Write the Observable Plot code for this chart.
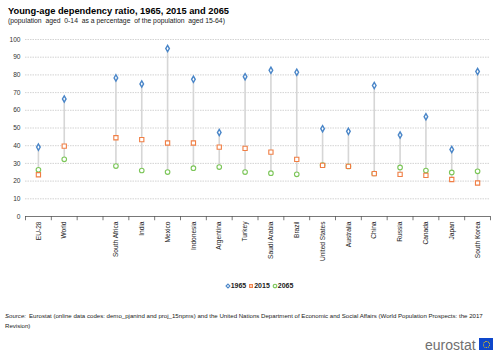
<!DOCTYPE html>
<html>
<head>
<meta charset="utf-8">
<script src="https://cdn.jsdelivr.net/npm/d3@7"></script>
<script src="https://cdn.jsdelivr.net/npm/@observablehq/plot@0.6"></script>
<style>
  html, body { margin: 0; padding: 0; background: #fff; overflow: hidden; }
  body { width: 500px; height: 354px; position: relative; font-family: "Liberation Sans", Arial, sans-serif; color: #000; }
  #title { position: absolute; left: 8px; top: 6px; font-size: 9.3px; font-weight: bold; white-space: nowrap; }
  #subtitle { position: absolute; left: 8px; top: 17px; font-size: 6.8px; color: #222; white-space: nowrap; }
  #chart { position: absolute; left: 0; top: 30px; width: 500px; }
  #chart svg { max-width: none; }
  #legend { position: absolute; left: 18px; width: 482px; top: 282px; text-align: center; font-size: 7px; font-weight: bold; color: #222; }
  #legend span.item { margin: 0 1px; }
  #source { position: absolute; left: 5px; top: 311px; width: 492px; font-size: 6.1px; line-height: 10px; color: #222; white-space: nowrap; }
  #source .lab { display: inline-block; font-style: italic; margin-right: 3px; }
  #logo { position: absolute; left: 425px; top: 337px; font-size: 14px; color: #707070; }
  #flag { position: absolute; left: 479px; top: 338px; width: 14px; height: 12px; background: #0e47cb; }
  #flag div { position: absolute; left: 3.5px; top: 2.5px; width: 5px; height: 5px; border: 1px dotted #ffd600; border-radius: 50%; }
</style>
</head>
<body>
<div id="title">Young-age dependency ratio, 1965, 2015 and 2065</div>
<div id="subtitle">(population &nbsp;aged &nbsp;0-14 &nbsp;as a percentage &nbsp;of the population &nbsp;aged 15-64)</div>
<div id="chart"></div>
<div id="legend"></div>
<div id="source"><span class="lab">Source:</span>Eurostat (online data codes: demo_pjanind and proj_15npms) and the United Nations Department of Economic and Social Affairs (World Population Prospects: the 2017<br>Revision)</div>
<div id="logo">eurostat</div>
<div id="flag"><div></div></div>
<script>
const categories = ["EU-28", "World", " ", "South Africa", "India", "Mexico", "Indonesia", "Argentina", "Turkey", "Saudi Arabia", "Brazil", "United States", "Australia", "China", "Russia", "Canada", "Japan", "South Korea"];
const countries = ["EU-28", "World", "South Africa", "India", "Mexico", "Indonesia", "Argentina", "Turkey", "Saudi Arabia", "Brazil", "United States", "Australia", "China", "Russia", "Canada", "Japan", "South Korea"];
const v1965 = [39.2, 66.4, 78.3, 74.9, 94.9, 77.5, 47.5, 79.0, 82.6, 81.5, 49.6, 48.1, 74.0, 46.0, 56.4, 37.9, 81.9];
const v2015 = [23.6, 39.8, 44.5, 43.4, 41.5, 41.5, 39.2, 38.5, 36.4, 32.3, 28.9, 28.3, 24.2, 23.8, 23.2, 20.9, 18.9];
const v2065 = [26.4, 32.3, 28.5, 26.0, 25.1, 27.3, 27.9, 25.1, 24.5, 23.8, 29.0, 28.3, 24.3, 27.7, 26.0, 24.9, 25.5];
const years = ["1965", "2015", "2065"];
const yTicks = [0, 10, 20, 30, 40, 50, 60, 70, 80, 90, 100];

const colors = {"1965": "#4a86c8", "2015": "#f07e44", "2065": "#7cc659"};

const rows = countries.map((c, i) => ({country: c, a: v1965[i], b: v2015[i], c: v2065[i],
  lo: Math.min(v1965[i], v2015[i], v2065[i]), hi: Math.max(v1965[i], v2015[i], v2065[i])}));

const W = 500, mL = 25, mR = 10;
const bw = (W - mL - mR) / categories.length;

const plot = Plot.plot({
  width: W,
  height: 240,
  marginLeft: mL,
  marginRight: mR,
  marginTop: 9,
  marginBottom: 54,
  style: {fontFamily: "Liberation Sans, Arial, sans-serif", fontSize: "6.6px", color: "#333", background: "white", maxWidth: "none"},
  x: {type: "band", domain: categories, padding: 0, round: false, range: [mL, W - mR], label: null},
  y: {domain: [0, 100], range: [186, 9], label: null},
  marks: [
    Plot.ruleY(yTicks.filter(d => d > 0), {stroke: "#c8c8c8", strokeWidth: 0.8, strokeDasharray: "1.5,1"}),
    Plot.axisY({ticks: yTicks, tickSize: 0, tickPadding: 5, tickFormat: d => d, fill: "#333"}),
    Plot.axisX({tickSize: 0, tickPadding: 5, tickRotate: -90, fill: "#222", tickFormat: d => d}),
    Plot.ruleX(rows, {x: "country", y1: "lo", y2: "hi", stroke: "#d6d6d6", strokeWidth: 1.6}),
    Plot.ruleY([0], {stroke: "#555", strokeWidth: 0.8}),
    Plot.ruleX(categories, {x: d => d, dx: -bw / 2, y1: 0, y2: -2.4, stroke: "#555", strokeWidth: 0.8}),
    Plot.ruleX(categories.slice(-1), {x: d => d, dx: bw / 2, y1: 0, y2: -2.4, stroke: "#555", strokeWidth: 0.8}),
    Plot.dot(rows, {x: "country", y: "c", symbol: "circle", r: 2.3, stroke: colors["2065"], strokeWidth: 1.1, fill: "white"}),
    Plot.dot(rows, {x: "country", y: "b", symbol: "square", r: 2.4, stroke: colors["2015"], strokeWidth: 1.1, fill: "white"}),
    Plot.dot(rows, {x: "country", y: "a", symbol: "diamond", r: 1.9, stroke: colors["1965"], strokeWidth: 1.4, fill: "white"})
  ]
});
document.getElementById("chart").appendChild(plot);

// legend
const symbols = {"1965": d3.symbolDiamond2, "2015": d3.symbolSquare2, "2065": d3.symbolCircle};
const leg = document.getElementById("legend");
years.forEach(y => {
  const span = document.createElement("span");
  span.className = "item";
  const svg = d3.create("svg").attr("width", 6).attr("height", 6).style("vertical-align", "-0.5px");
  const sym = d3.symbol().type(symbols[y]).size(10);
  svg.append("path").attr("d", sym()).attr("transform", "translate(3,3)")
    .attr("fill", "white").attr("stroke", colors[y]).attr("stroke-width", 1.1);
  span.appendChild(svg.node());
  span.appendChild(document.createTextNode(y));
  leg.appendChild(span);
});
</script>
</body>
</html>
